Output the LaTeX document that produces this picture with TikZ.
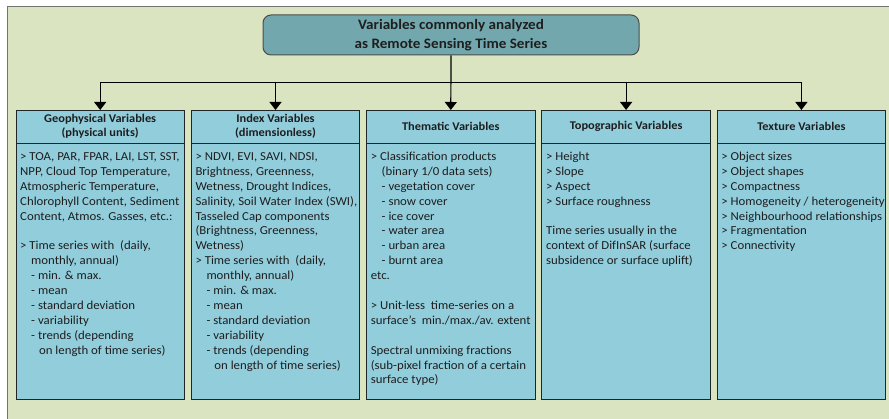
\documentclass[tikz,border=0pt]{standalone}
\usepackage{fontspec}
\setmainfont[FakeStretch=1.05]{Carlito}
\usetikzlibrary{positioning,arrows.meta}
\definecolor{bgolive}{RGB}{218,228,192}
\definecolor{boxblue}{RGB}{146,205,220}
\definecolor{titleteal}{RGB}{114,168,173}
\definecolor{edgedark}{RGB}{30,38,40}
\definecolor{inkgray}{RGB}{30,30,30}
\newcommand{\tab}[1][11pt]{\hspace*{#1}}
\newcommand{\boxtext}[1]{\parbox[t][242pt][t]{160pt}{\raggedright\strut #1}}

\begin{document}
\begin{tikzpicture}[x=1pt,y=1pt,
		titlebox/.style={draw=black!70, fill=titleteal, line width=1pt, rounded corners=8pt,
			minimum width=376pt, minimum height=40pt, align=center,
			font=\bfseries\fontsize{14.4}{19}\selectfont, text=inkgray},
		head/.style={draw=edgedark, fill=boxblue, line width=0.9pt, outer sep=0pt,
			minimum width=168.4pt, minimum height=33pt, inner sep=0pt, align=center,
			font=\bfseries\fontsize{11.8}{14.4}\selectfont, text=inkgray},
		body/.style={draw=edgedark, fill=boxblue, line width=0.9pt, outer sep=0pt,
			minimum width=168.4pt, inner xsep=4pt, inner ysep=7pt,
			font=\fontsize{12.2}{14.9}\selectfont, text=inkgray},
		link/.style={line width=1.2pt, -{Triangle[width=12pt,length=8pt]}}
	]
	\useasboundingbox (0,0) rectangle (889,419);
	\fill[bgolive] (7,0) rectangle (889,412);
	\draw[black!55, line width=1pt] (7,0) -- (7,412) -- (889,412);
	
	\node[titlebox] (title) at (451,384) {Variables commonly analyzed\\as Remote Sensing Time Series};
	
	\node[head] (geo) at (100.2,292.5) {Geophysical Variables\\(physical units)};
	\node[head, right=6.9pt of geo] (idx) {Index Variables\\(dimensionless)};
	\node[head, right=6.9pt of idx] (thm) {Thematic Variables};
	\node[head, right=6.9pt of thm] (top) {Topographic Variables};
	\node[head, right=6.9pt of top] (tex) {Texture Variables};
	
	\node[body, below=0pt of geo] (geobody) {\boxtext{%
			\mbox{> TOA, PAR, FPAR, LAI, LST, SST,}\\
			NPP, Cloud Top Temperature,\\
			Atmospheric Temperature,\\
			\mbox{Chlorophyll Content, Sediment}\\
			Content, Atmos. Gasses, etc.:\\[\baselineskip]
			> Time series with\ \ (daily,\\
			\tab monthly, annual)\\
			\tab - min. \& max.\\
			\tab - mean\\
			\tab - standard deviation\\
			\tab - variability\\
			\tab - trends (depending\\
			\tab[16pt] on length of time series)}};
	\node[body, below=0pt of idx] (idxbody) {\boxtext{%
			> NDVI, EVI, SAVI, NDSI,\\
			Brightness, Greenness,\\
			Wetness, Drought Indices,\\
			\mbox{Salinity, Soil Water Index (SWI),}\\
			Tasseled Cap components\\
			(Brightness, Greenness,\\
			Wetness)\\
			> Time series with\ \ (daily,\\
			\tab monthly, annual)\\
			\tab - min. \& max.\\
			\tab - mean\\
			\tab - standard deviation\\
			\tab - variability\\
			\tab - trends (depending\\
			\tab[16pt] on length of time series)}};
	\node[body, below=0pt of thm] (thmbody) {\boxtext{%
			> Classification products\\
			\tab[8pt] (binary 1/0 data sets)\\
			\tab[8pt] - vegetation cover\\
			\tab[8pt] - snow cover\\
			\tab[8pt] - ice cover\\
			\tab[8pt] - water area\\
			\tab[8pt] - urban area\\
			\tab[8pt] - burnt area\\
			etc.\\[\baselineskip]
			> Unit-less\ \ time-series on a\\
			\mbox{surface’s\ \ min./max./av. extent}\\[\baselineskip]
			Spectral unmixing fractions\\
			\mbox{(sub-pixel fraction of a certain}\\
			surface type)}};
	\node[body, below=0pt of top] (topbody) {\boxtext{%
			> Height\\
			> Slope\\
			> Aspect\\
			> Surface roughness\\[\baselineskip]
			Time series usually in the\\
			context of DifInSAR (surface\\
			subsidence or surface uplift)}};
	\node[body, below=0pt of tex] (texbody) {\boxtext{%
			> Object sizes\\
			> Object shapes\\
			> Compactness\\
			\mbox{> Homogeneity / heterogeneity}\\
			\mbox{> Neighbourhood relationships}\\
			> Fragmentation\\
			> Connectivity}};
	
	\coordinate (bus) at ([yshift=-27pt]title.south);
	\draw[link] (title.south) -- (thm.north);
	\foreach \n in {geo,idx,top,tex}
		\draw[link] (bus) -| (\n.north);
\end{tikzpicture}
\end{document}
